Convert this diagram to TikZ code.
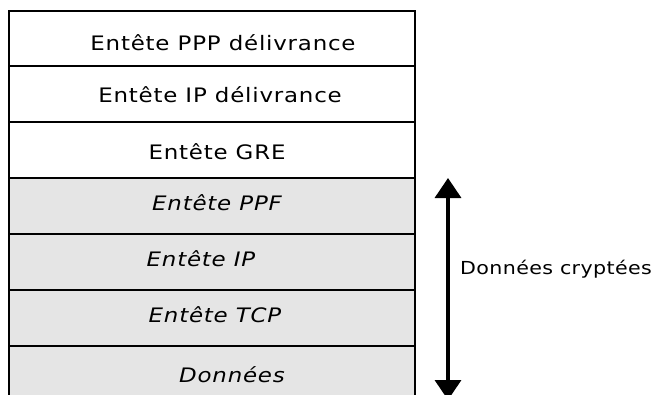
\documentclass[tikz,border=0pt]{standalone}
\usepackage{fontspec}
\setmainfont{DejaVu Sans}[FakeStretch=1.15,LetterSpace=4]
\newfontfamily\sidefont{DejaVu Sans}[FakeStretch=1.15,LetterSpace=2]
\usetikzlibrary{arrows.meta}
\begin{document}
\begin{tikzpicture}[x=1bp,y=-1bp,
  layer/.style={draw=black,line width=1.2bp,minimum width=406bp,inner sep=0pt,outer sep=0pt,anchor=north west},
  plain/.style={layer,fill=white},
  cipher/.style={layer,fill=black!10},
  lbl/.style={anchor=base,inner sep=0pt,font=\fontsize{20}{24}\selectfont},
  ilbl/.style={lbl,font=\fontsize{20}{24}\selectfont\itshape},
  span/.style={line width=3.5bp,{Triangle[width=26bp,length=20bp]}-{Triangle[width=26bp,length=20bp]}}]
\useasboundingbox (0,0) rectangle (656,394);
\clip (0,0) rectangle (656,394);
% outer (clear) headers
\node[plain,minimum height=55bp] (ppp) at (9,11) {};
\node[plain,minimum height=56bp] (ipd) at (9,66) {};
\node[plain,minimum height=56bp] (gre) at (9,122) {};
% encrypted part
\node[cipher,minimum height=56bp] (ppf) at (9,178) {};
\node[cipher,minimum height=56bp] (ip) at (9,234) {};
\node[cipher,minimum height=56bp] (tcp) at (9,290) {};
\node[cipher,minimum height=60bp] (data) at (9,346) {};
% labels
\node[lbl] at (223,50) {Entête PPP délivrance};
\node[lbl] at (220,102) {Entête IP délivrance};
\node[lbl] at (217,159) {Entête GRE};
\node[ilbl] at (217,210) {Entête PPF};
\node[ilbl] at (201,266) {Entête IP};
\node[ilbl] at (215,322) {Entête TCP};
\node[ilbl] at (232,382) {Données};
% span of the encrypted part
\coordinate (top) at (448,178);
\coordinate (bot) at (448,400);
\draw[span] (top) -- (bot);
\node[anchor=base west,inner sep=0pt,font=\sidefont\fontsize{18}{22}\selectfont] (cry) at (460,274) {Données cryptées};
\end{tikzpicture}
\end{document}
